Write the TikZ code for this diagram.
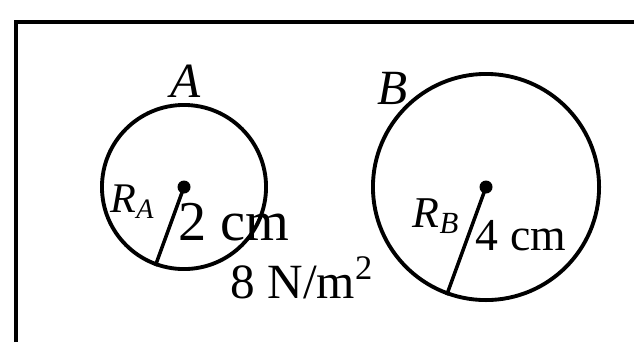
\documentclass[tikz,border=0pt]{standalone}
\usepackage{fontspec}
\setmainfont{Liberation Serif}
\usetikzlibrary{positioning}
\tikzset{
  ball/.style={draw,circle,line width=1.1pt,inner sep=0pt},
  cdot/.style={fill,circle,inner sep=0pt,minimum size=0.13cm},
  lbl/.style={inner sep=0pt,font=\fontsize{14}{16}\selectfont},
}
\begin{document}
\begin{tikzpicture}[x=0.01cm,y=-0.01cm]
\useasboundingbox (0,0) rectangle (634,342);
% frame
\coordinate (fl) at (16,342);
\coordinate (fc) at (16,22);
\coordinate (fr) at (634,22);
\draw[line width=1.3pt] (fl) -- (fc) -- (fr);

% bubbles
\node[ball,minimum size=1.64cm] (circA) at (184,187) {};
\node[ball,minimum size=2.26cm] (circB) at (486,187) {};
\node[cdot] (dotA) at (184,187) {};
\node[cdot] (dotB) at (486,187) {};
\draw[line width=1pt] (dotA.center) -- (circA.250);
\draw[line width=1pt] (dotB.center) -- (circB.250);

% labels
\node[lbl] (nameA) at (186,81) {\textit{A}};
\node[lbl] (nameB) at (393,88) {\textit{B}};
\node[lbl,anchor=base west,font=\fontsize{12}{14}\selectfont] (radA) at (110,212) {\textit{R}\textsubscript{\textit{A}}};
\node[lbl,anchor=base west,font=\fontsize{16}{18}\selectfont] (valA) at (178,240) {2 cm};
\node[lbl,anchor=base west,font=\fontsize{12.5}{14}\selectfont] (radB) at (412,227) {\textit{R}\textsubscript{\textit{B}}};
\node[lbl,anchor=base west,font=\fontsize{13}{15}\selectfont] (valB) at (475,250) {4 cm};
\node[lbl,anchor=base west] (tens) at (230,298) {8 N/m\textsuperscript{2}};
\end{tikzpicture}
\end{document}
